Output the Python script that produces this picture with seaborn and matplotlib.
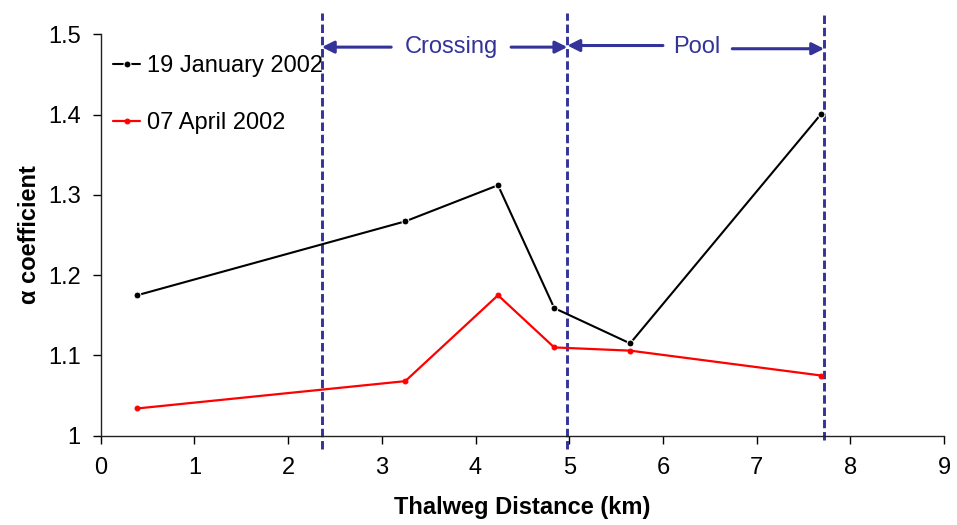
import numpy as np
import pandas as pd
import matplotlib
matplotlib.use("Agg")
import matplotlib.pyplot as plt
import seaborn as sns

# values
dist_km = [0.39, 3.25, 4.24, 4.84, 5.65, 7.69]
alpha_jan = [1.175, 1.267, 1.312, 1.159, 1.115, 1.401]
alpha_apr = [1.034, 1.068, 1.175, 1.110, 1.106, 1.075]
series_names = ["19 January 2002", "07 April 2002"]

reach_bounds = [2.36, 4.98, 7.72]
reach_names = ["Crossing", "Pool"]

BLUE = "#333399"
FS = 17

sns.set_theme(style="white")
plt.rcParams["font.family"] = ["Liberation Sans", "DejaVu Sans"]
plt.rcParams["text.color"] = "black"
plt.rcParams["axes.labelcolor"] = "black"

df = pd.DataFrame({
    "dist": dist_km * 2,
    "alpha": alpha_jan + alpha_apr,
    "date": [series_names[0]] * len(dist_km) + [series_names[1]] * len(dist_km),
})

fig = plt.figure(figsize=(9.57, 5.25), dpi=100)
ax = fig.add_axes([0.1052, 0.170, 0.8813, 0.7647])

sns.lineplot(data=df[df.date == series_names[0]], x="dist", y="alpha", color="black",
             marker="o", markersize=5, linewidth=1.5, label=series_names[0], ax=ax)
sns.lineplot(data=df[df.date == series_names[1]], x="dist", y="alpha", color="red",
             marker="o", markersize=3.5, linewidth=1.6, markeredgecolor="red",
             label=series_names[1], ax=ax)

ax.set_xlim(0, 9)
ax.set_ylim(1, 1.5)
ax.set_xticks(range(10))
ax.set_yticks([1, 1.1, 1.2, 1.3, 1.4, 1.5])
ax.set_yticklabels(["1", "1.1", "1.2", "1.3", "1.4", "1.5"])
ax.tick_params(axis="both", labelsize=FS, colors="black", direction="out")
ax.tick_params(axis="x", length=6, width=1, pad=9.5)
ax.tick_params(axis="y", length=6, width=1, pad=8.5)
ax.xaxis.set_ticks_position("bottom")
ax.yaxis.set_ticks_position("left")

for s in ["top", "right"]:
    ax.spines[s].set_visible(False)
for s in ["left", "bottom"]:
    ax.spines[s].set_color("#222222")
    ax.spines[s].set_linewidth(1.0)

ax.set_xlabel("Thalweg Distance (km)", fontsize=FS, fontweight="bold", labelpad=12)
ax.set_ylabel("α coefficient", fontsize=FS, fontweight="bold", labelpad=5)

# reach boundaries
ends = [0.984, 0.984, 0.995]
for xb, yb in zip(reach_bounds, ends):
    ax.plot([xb, xb], [yb, 1.527], color=BLUE, linestyle=(0, (2.9, 1.3)),
            linewidth=2.1, clip_on=False, zorder=1)

arrow = dict(arrowstyle="-|>", color=BLUE, lw=2.2, mutation_scale=18,
             shrinkA=0, shrinkB=0)
ay = 1.484
ax.annotate("", xy=(reach_bounds[0], ay), xytext=(3.10, ay), arrowprops=arrow,
            annotation_clip=False)
ax.annotate("", xy=(reach_bounds[1], ay), xytext=(4.38, ay), arrowprops=arrow,
            annotation_clip=False)
ax.annotate("", xy=(reach_bounds[1], ay + 0.002), xytext=(6.00, ay + 0.002),
            arrowprops=arrow, annotation_clip=False)
ax.annotate("", xy=(reach_bounds[2], ay - 0.002), xytext=(6.74, ay - 0.002),
            arrowprops=arrow, annotation_clip=False)
ax.text(3.74, ay, reach_names[0], color=BLUE, fontsize=FS, ha="center", va="center")
ax.text(6.36, ay, reach_names[1], color=BLUE, fontsize=FS, ha="center", va="center")

ax.legend(loc="upper left", bbox_to_anchor=(-0.005, 0.99), frameon=False,
          fontsize=FS, handlelength=1.15, handletextpad=0.28, labelspacing=1.5,
          borderaxespad=0.3)

fig.savefig("out.png", dpi=100)
